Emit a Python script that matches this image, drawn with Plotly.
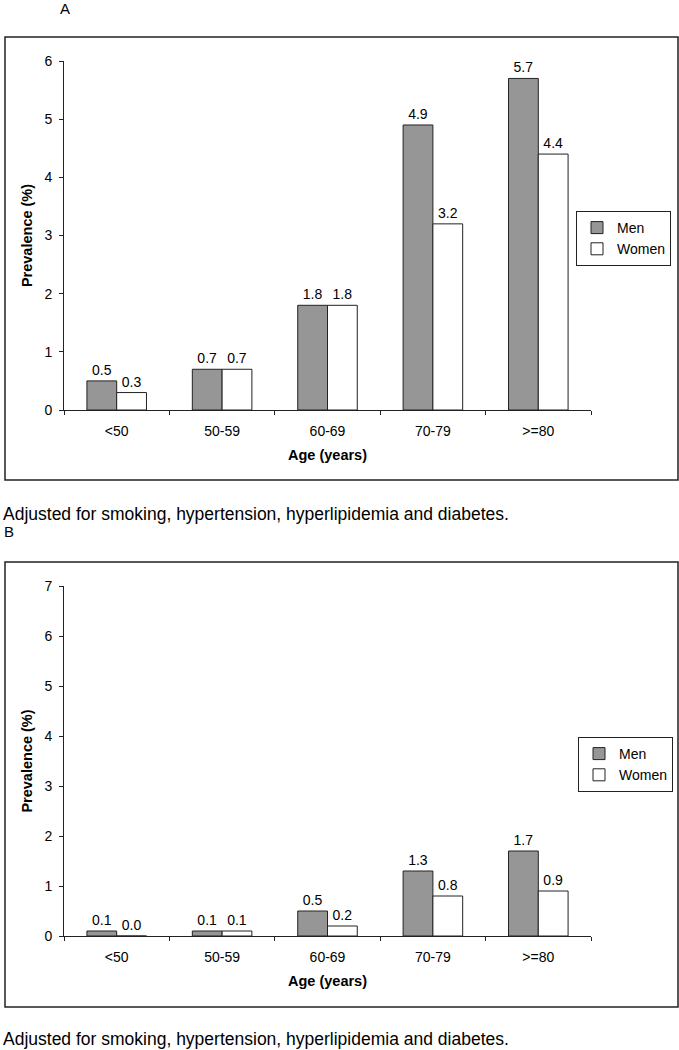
import plotly.graph_objects as go

ages = ["<50", "50-59", "60-69", "70-79", ">=80"]
men_a = [0.5, 0.7, 1.8, 4.9, 5.7]
women_a = [0.3, 0.7, 1.8, 3.2, 4.4]
men_b = [0.1, 0.1, 0.5, 1.3, 1.7]
women_b = [0.0, 0.1, 0.2, 0.8, 0.9]
footnote = "Adjusted for smoking, hypertension, hyperlipidemia and diabetes."

W, H = 679, 1050
FONT = "Liberation Sans, Arial, sans-serif"
MEN_COLOR = "#969696"
LINE = "#222222"
FS = 14

def px_x(x):
    return x / W

def px_y(y):
    return 1 - y / H

fig = go.Figure()

def add_bars(men, women, xa, ya, legend):
    for name, vals, color in (("Men", men, MEN_COLOR), ("Women", women, "white")):
        fig.add_trace(go.Bar(
            x=ages, y=vals, name=name, xaxis=xa, yaxis=ya, legend=legend,
            marker=dict(color=color, line=dict(color=LINE, width=1)),
            text=[f"{v:.1f}" for v in vals], textposition="outside",
            textfont=dict(family=FONT, size=FS, color="black"),
            cliponaxis=False,
        ))

add_bars(men_a, women_a, "x", "y", "legend")
add_bars(men_b, women_b, "x2", "y2", "legend2")

xaxis_common = dict(
    type="category", tickson="boundaries", ticks="outside", ticklen=4,
    tickcolor=LINE, showline=True, linecolor=LINE, linewidth=1,
    showgrid=False, zeroline=False, automargin=False, ticklabelstandoff=8,
    tickfont=dict(family=FONT, size=FS, color="black"),
    title=dict(font=dict(family=FONT, size=14.5, color="black"), standoff=12),
    domain=[px_x(64), px_x(591)], fixedrange=True,
)
yaxis_common = dict(
    ticks="outside", ticklen=4, tickcolor=LINE, showline=True, linecolor=LINE,
    linewidth=1, showgrid=False, zeroline=False, dtick=1, automargin=False,
    ticklabelstandoff=4,
    tickfont=dict(family=FONT, size=FS, color="black"),
    title=dict(font=dict(family=FONT, size=14.5, color="black"), standoff=8),
    fixedrange=True,
)

legend_common = dict(
    xanchor="right", yanchor="top", bordercolor=LINE, borderwidth=1,
    bgcolor="white", itemwidth=30, tracegroupgap=0,
    font=dict(family=FONT, size=FS, color="black"),
)

fig.update_layout(
    width=W, height=H,
    margin=dict(l=0, r=0, t=0, b=0, autoexpand=False),
    paper_bgcolor="white", plot_bgcolor="white",
    barmode="group", bargap=0.435, bargroupgap=0,
    font=dict(family=FONT, size=FS, color="black"),
    xaxis=dict(xaxis_common, anchor="y", title_text="<b>Age (years)</b>"),
    yaxis=dict(yaxis_common, anchor="x", range=[0, 6],
               domain=[px_y(410), px_y(61)], title_text="<b>Prevalence (%)</b>"),
    xaxis2=dict(xaxis_common, anchor="y2", title_text="<b>Age (years)</b>"),
    yaxis2=dict(yaxis_common, anchor="x2", range=[0, 7],
                domain=[px_y(936), px_y(586)], title_text="<b>Prevalence (%)</b>"),
    legend=dict(legend_common, x=px_x(671), y=px_y(211)),
    legend2=dict(legend_common, x=px_x(673), y=px_y(737)),
    shapes=[
        dict(type="rect", xref="paper", yref="paper", x0=px_x(5), x1=px_x(678),
             y0=px_y(480), y1=px_y(37), line=dict(color=LINE, width=1.5)),
        dict(type="rect", xref="paper", yref="paper", x0=px_x(5), x1=px_x(678),
             y0=px_y(1007), y1=px_y(562), line=dict(color=LINE, width=1.5)),
    ],
    annotations=[
        dict(text="A", x=px_x(65), y=px_y(8), xref="paper", yref="paper",
             showarrow=False, xanchor="center", yanchor="middle",
             font=dict(size=15)),
        dict(text=footnote, x=px_x(1), y=px_y(514), xref="paper", yref="paper",
             showarrow=False, xanchor="left", yanchor="middle",
             font=dict(size=17.5)),
        dict(text="B", x=px_x(2), y=px_y(531), xref="paper", yref="paper",
             showarrow=False, xanchor="left", yanchor="middle",
             font=dict(size=15)),
        dict(text=footnote, x=px_x(1), y=px_y(1039), xref="paper", yref="paper",
             showarrow=False, xanchor="left", yanchor="middle",
             font=dict(size=17.5)),
    ],
)

fig.write_html(
    "out.html",
    config={"displayModeBar": False},
    post_script="document.body.style.margin='0';document.body.style.overflow='hidden';",
)
